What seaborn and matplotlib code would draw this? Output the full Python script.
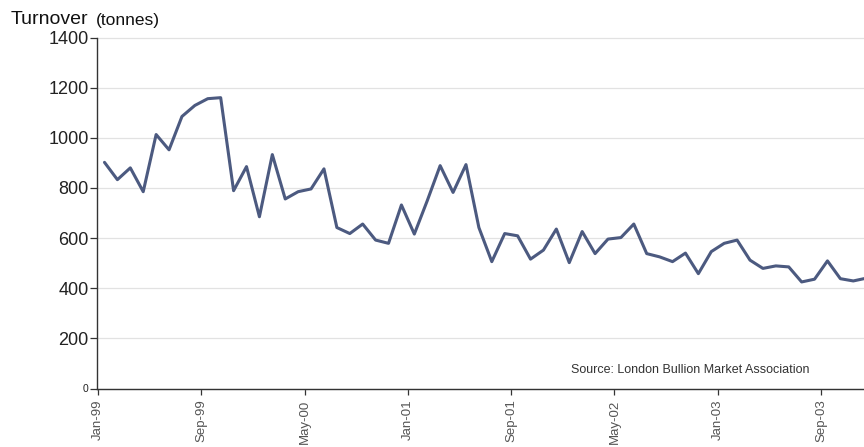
import numpy as np
import pandas as pd
import matplotlib
matplotlib.use("Agg")
import matplotlib.pyplot as plt
import seaborn as sns

# ---- data (monthly LBMA gold turnover, Jan-99 .. Dec-03) ----
months = pd.date_range("1999-01-01", periods=60, freq="MS").strftime("%b-%y").tolist()
turnover = [902, 833, 880, 785, 1013, 952, 1085, 1129, 1156, 1160,
            789, 885, 685, 933, 756, 785, 796, 876, 642, 618,
            656, 592, 579, 732, 616, 749, 889, 782, 893, 642,
            506, 618, 609, 516, 552, 636, 502, 626, 538, 596,
            602, 656, 538, 525, 506, 540, 458, 546, 579, 592,
            512, 479, 489, 485, 425, 436, 509, 438, 429, 440]
tick_labels = ["Jan-99", "Sep-99", "May-00", "Jan-01", "Sep-01", "May-02", "Jan-03", "Sep-03"]
y_ticks = [0, 200, 400, 600, 800, 1000, 1200, 1400]

df = pd.DataFrame({"month": months, "pos": np.arange(len(months)) + 0.5, "turnover": turnover})

sns.set_style("white")
plt.rcParams["font.family"] = ["Liberation Sans", "DejaVu Sans"]

W, H = 864, 447
fig = plt.figure(figsize=(W / 100, H / 100), dpi=100)
left, right, top, bottom = 97, 864, 37.5, 388.5
ax = fig.add_axes([left / W, (H - bottom) / H, (right - left) / W, (bottom - top) / H])

sns.lineplot(data=df, x="pos", y="turnover", ax=ax, color="#4c5a80", linewidth=2.2)

ax.set_ylim(0, 1400)
ax.set_xlim(-0.08, 59.33)
ax.set_yticks(y_ticks)
ax.set_yticklabels([str(v) for v in y_ticks], fontsize=13, color="#222222")
for lab in ax.get_yticklabels():
    if lab.get_text() == "0":
        lab.set_fontsize(7.5)
ax.set_xticks(np.arange(0, 8 * len(tick_labels), 8))
ax.set_xticklabels(tick_labels, rotation=90, fontsize=9.5, color="#555555", va="top")

ax.yaxis.grid(True, color="#e2e2e2", linewidth=0.9)
ax.xaxis.grid(False)
for gl in ax.get_ygridlines():
    gl.set_clip_on(False)
ax.set_axisbelow(True)

for s in ["top", "right"]:
    ax.spines[s].set_visible(False)
ax.spines["left"].set_color("#333333")
ax.spines["bottom"].set_color("#333333")
ax.spines["left"].set_linewidth(1.0)
ax.spines["bottom"].set_linewidth(1.0)

ax.tick_params(axis="y", which="major", direction="out", length=5, width=0.9, color="#333333", left=True, pad=1)
ax.tick_params(axis="x", which="major", direction="out", length=4, width=0.9, color="#333333", bottom=True, pad=4)

ax.set_xlabel("")
ax.set_ylabel("")

fig.text(11 / W, 1 - 19 / H, "Turnover", fontsize=14, color="#111111", va="center", ha="left")
fig.text(96 / W, 1 - 20 / H, "(tonnes)", fontsize=12.5, color="#111111", va="center", ha="left")

fig.text(690 / W, 1 - 370 / H, "Source: London Bullion Market Association",
         fontsize=9, color="#333333", ha="center", va="center")

fig.savefig("out.png", dpi=100)
